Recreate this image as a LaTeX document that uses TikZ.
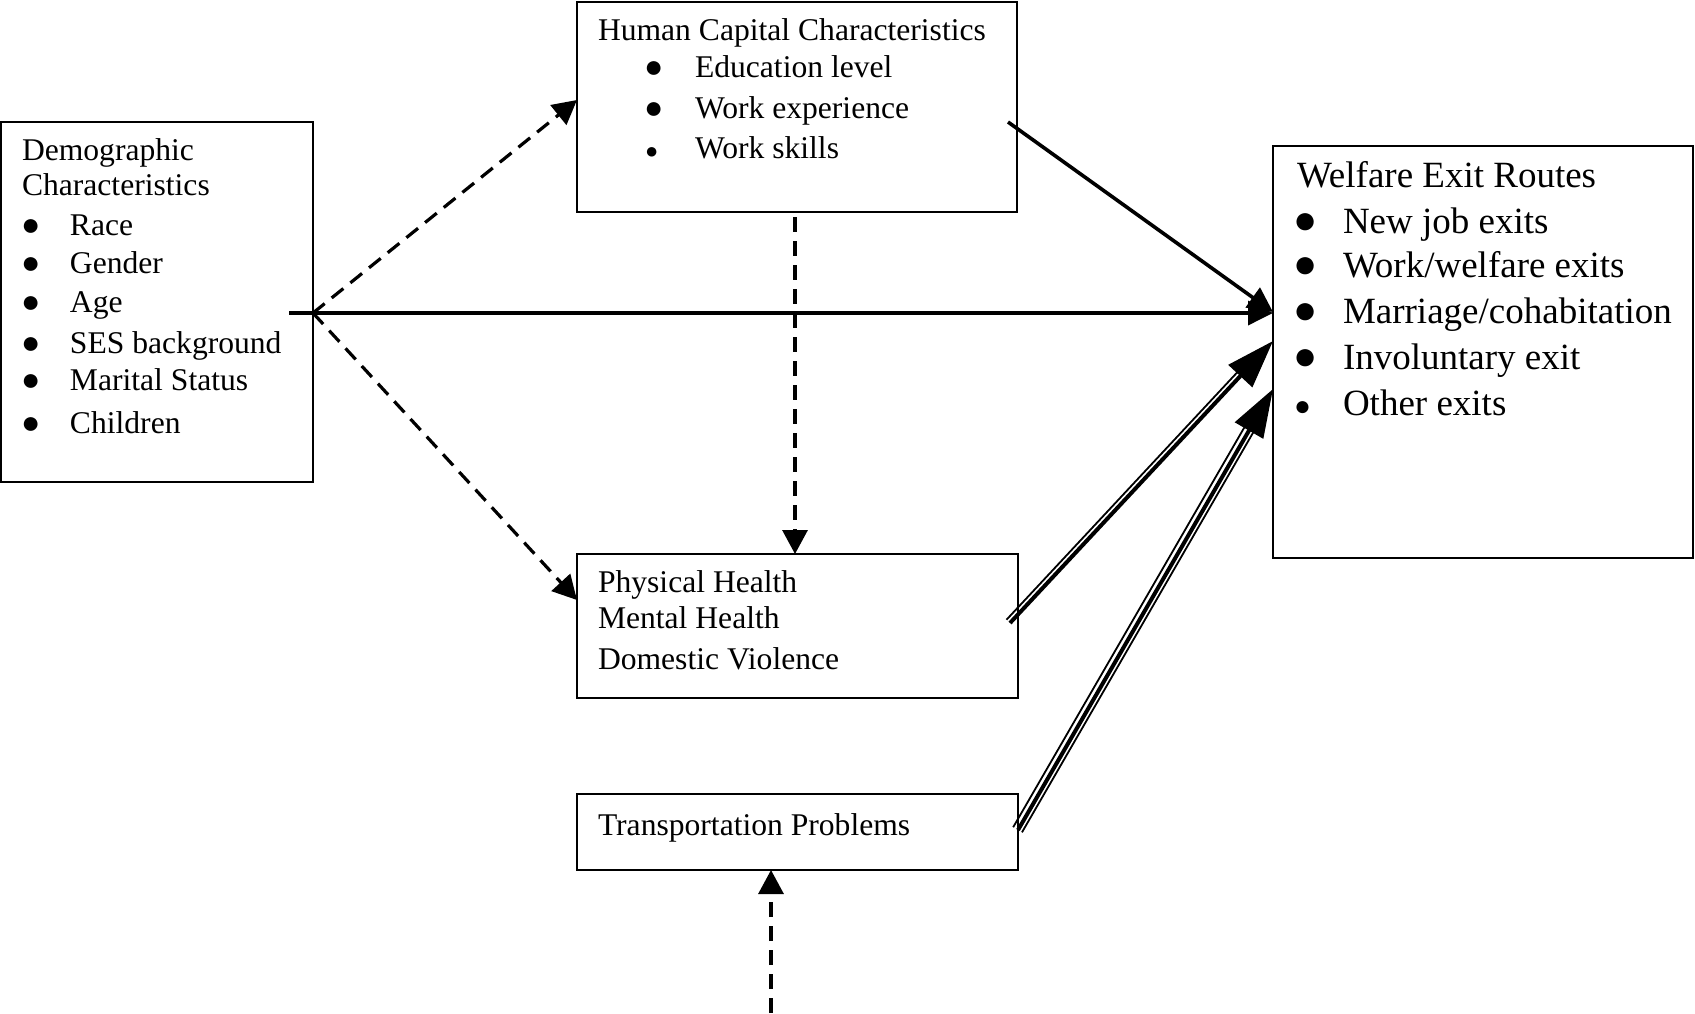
\documentclass[tikz,border=0pt]{standalone}
\usepackage{fontspec}
\setmainfont{Liberation Serif}
\usetikzlibrary{arrows.meta,calc}
\newcommand\bl[2]{\makebox[#1][l]{\fontsize{#2}{#2}\selectfont ●}}
\begin{document}
\begin{tikzpicture}[x=0.5pt,y=-0.5pt,
  box/.style={draw, line width=1pt, inner sep=0pt, outer sep=0pt},
  txt/.style={anchor=base west, inner sep=0pt, outer sep=0pt},
  fh/.style={font=\fontsize{15.8}{19}\selectfont},
  fw/.style={font=\fontsize{18.5}{22}\selectfont},
  solidarr/.style={line width=1.8pt, -{Triangle[length=12.5pt,width=12pt]}},
  dasharr/.style={line width=1.6pt, dash pattern=on 7.5pt off 4.5pt, -{Triangle[length=12pt,width=12.5pt]}},
  dblarr/.style={line width=2pt, -{Triangle[length=24pt,width=16pt]}},
  thinln/.style={line width=0.9pt, shorten >=16pt}
]
\useasboundingbox (0,0) rectangle (1695,1013);

% boxes
\node[box, minimum width=156pt, minimum height=180pt] (demo) at (157,302) {};
\node[box, minimum width=220pt, minimum height=105pt] (hc) at (797,107) {};
\node[box, minimum width=210pt, minimum height=206pt] (ex) at (1483,352) {};
\node[box, minimum width=220.5pt, minimum height=72pt] (ph) at (797.5,626) {};
\node[box, minimum width=220.5pt, minimum height=38pt] (tp) at (797.5,832) {};

% demographic text
\node[txt,fh] (d0) at (22,160) {Demographic};
\node[txt,fh] (d00) at (22,195) {Characteristics};
\node[txt,fh] (d1) at (21,235) {\bl{24.5pt}{16}Race};
\node[txt,fh] (d2) at (21,273) {\bl{24.5pt}{16}Gender};
\node[txt,fh] (d3) at (21,312) {\bl{24.5pt}{16}Age};
\node[txt,fh] (d4) at (21,353) {\bl{24.5pt}{16}SES background};
\node[txt,fh] (d5) at (21,390) {\bl{24.5pt}{16}Marital Status};
\node[txt,fh] (d6) at (21,433) {\bl{24.5pt}{16}Children};

% human capital text
\node[txt,fh] (h0) at (598,40) {Human Capital Characteristics};
\node[txt,fh] (h1) at (644,77) {\bl{25.5pt}{16}Education level};
\node[txt,fh] (h2) at (644,118) {\bl{25.5pt}{16}Work experience};
\node[txt,fh] (h3) at (645,158) {\bl{25pt}{11}Work skills};

% welfare text
\node[txt,fw] (w0) at (1297,187) {Welfare Exit Routes};
\node[txt,fw] (w1) at (1293,233) {\bl{25pt}{20}New job exits};
\node[txt,fw] (w2) at (1293,277) {\bl{25pt}{20}Work/welfare exits};
\node[txt,fw] (w3) at (1293,323) {\bl{25pt}{20}Marriage/cohabitation};
\node[txt,fw] (w4) at (1293,369) {\bl{25pt}{20}Involuntary exit};
\node[txt,fw] (w5) at (1294,415) {\bl{24.5pt}{14}Other exits};

% health text
\node[txt,fh] (p1) at (598,592) {Physical Health};
\node[txt,fh] (p2) at (598,628) {Mental Health};
\node[txt,fh] (p3) at (598,669) {Domestic Violence};
\node[txt,fh] (t1) at (598,835) {Transportation Problems};

% connectors
\coordinate (hub) at (313,313);
\coordinate (hl) at (289,313);
\draw[solidarr] (hl) -- (hub -| ex.west);
\draw[dasharr] (hub) -- ($(hc.west)+(0,-7)$);
\draw[dasharr] (hub) -- ($(ph.west)+(0,-26)$);
\draw[dasharr] ($(hc.south)+(-2,5)$) -- ($(ph.north)+(-2.5,0)$);
\draw[solidarr] ($(hc.east)+(-9,15)$) -- ($(ex.west)+(0,-40)$);

\coordinate (a1) at ($(ph.east)+(-8,-3)$);
\coordinate (b1) at ($(ex.west)+(0,-11)$);
\draw[dblarr] (a1) -- (b1);
\draw[thinln] ($(a1)!2.4pt!90:(b1)$) -- ($(b1)!2.4pt!-90:(a1)$);

\coordinate (a2) at ($(tp.east)+(0,-2)$);
\coordinate (b2) at ($(ex.west)+(0,37)$);
\draw[dblarr] (a2) -- (b2);
\draw[thinln] ($(a2)!2.8pt!90:(b2)$) -- ($(b2)!2.8pt!-90:(a2)$);
\draw[thinln] ($(a2)!2.3pt!-90:(b2)$) -- ($(b2)!2.3pt!90:(a2)$);

\coordinate (bot) at (771,1013);
\draw[dasharr] (bot) -- (bot |- tp.south);
\end{tikzpicture}
\end{document}
